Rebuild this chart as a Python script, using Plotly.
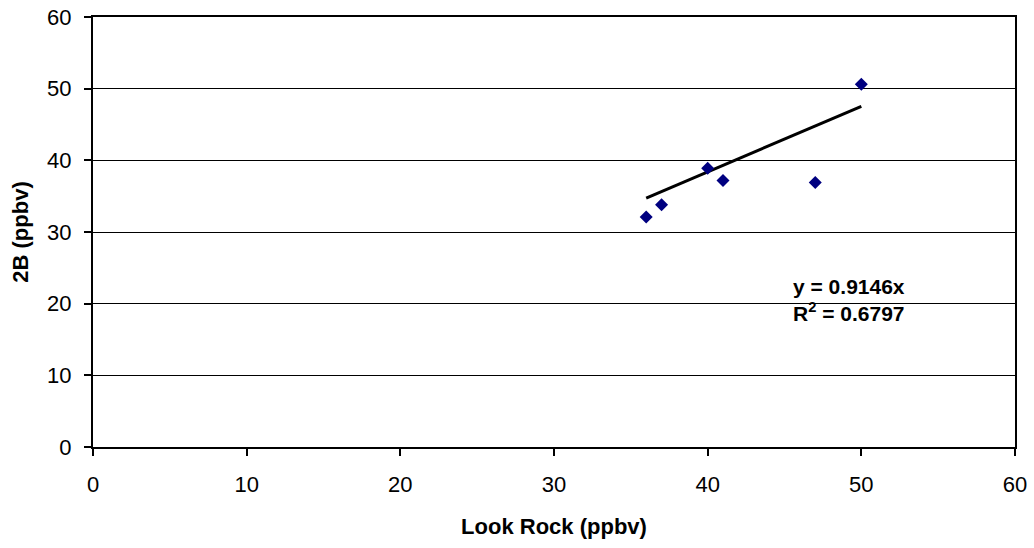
import plotly.graph_objects as go

# Paired ozone measurements (ppbv)
look_rock = [36.0, 37.0, 40.0, 41.0, 47.0, 50.0]
site_2b = [32.1, 33.8, 38.9, 37.2, 36.9, 50.6]

# Linear trend as reported
slope = 0.9146
offset = 1.8
r_squared = 0.6797

x_ticks = [0, 10, 20, 30, 40, 50, 60]
y_ticks = [0, 10, 20, 30, 40, 50, 60]

trend_x = [min(look_rock), max(look_rock)]
trend_y = [slope * v + offset for v in trend_x]

FONT = "Liberation Sans, Arial, sans-serif"

fig = go.Figure()
fig.add_trace(go.Scatter(
    x=trend_x, y=trend_y, mode="lines",
    line=dict(color="black", width=3),
    hoverinfo="skip", showlegend=False,
))
fig.add_trace(go.Scatter(
    x=look_rock, y=site_2b, mode="markers",
    marker=dict(symbol="diamond", color="#000080", size=10, line=dict(width=0)),
    showlegend=False,
))

fig.add_annotation(
    x=45.4, y=20.5, xref="x", yref="y", xanchor="left", yanchor="middle",
    text=f"<b>y = {slope}x</b><br><b>R<sup>2</sup> = {r_squared}</b>",
    showarrow=False, align="left",
    font=dict(family=FONT, size=21, color="black"),
)

axis_font = dict(family=FONT, size=22, color="black")
title_font = dict(family=FONT, size=22, color="black")

fig.update_layout(
    width=1034, height=548,
    margin=dict(l=93, r=19, t=17, b=101),
    paper_bgcolor="white", plot_bgcolor="white",
    font=axis_font,
    xaxis=dict(
        range=[0, 60], tickvals=x_ticks, ticktext=[str(t) for t in x_ticks],
        showgrid=False, zeroline=False, automargin=False,
        showline=True, linecolor="black", linewidth=2, mirror=True,
        ticks="outside", ticklen=7, tickwidth=2, tickcolor="black",
        tickfont=axis_font, ticklabelstandoff=10,
        title=dict(text="<b>Look Rock (ppbv)</b>", font=title_font, standoff=22),
    ),
    yaxis=dict(
        range=[0, 60], tickvals=y_ticks, ticktext=[str(t) for t in y_ticks],
        showgrid=True, gridcolor="black", gridwidth=1, zeroline=False, automargin=False,
        showline=True, linecolor="black", linewidth=2, mirror=True,
        ticks="outside", ticklen=7, tickwidth=2, tickcolor="black",
        tickfont=axis_font, ticklabelstandoff=8,
        title=dict(text="<b>2B (ppbv)</b>", font=title_font, standoff=12),
    ),
)

fig.write_html("out.html")
